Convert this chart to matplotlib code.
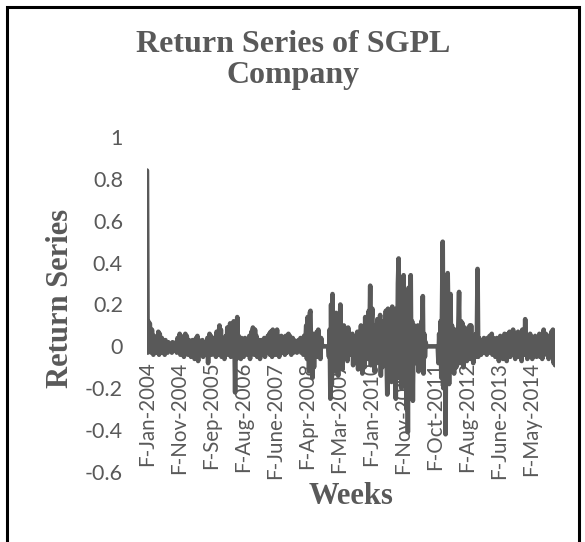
import matplotlib.pyplot as plt
from matplotlib.patches import Rectangle

# weekly return series, Jan 2004 - Dec 2014
returns = [
    0.84, -0.03, 0.12, -0.02, 0.11, 0.04, -0.03, 0.08, 0.02, -0.04,
    0.05, -0.02, 0.03, -0.03, 0.02, 0.00, 0.07, -0.04, 0.06, 0.01,
    -0.03, 0.04, -0.02, 0.02, 0.01, -0.04, 0.03, -0.01, 0.01, -0.03,
    0.02, 0.00, -0.02, 0.01, 0.00, -0.03, 0.02, -0.01, 0.01, 0.00,
    -0.02, 0.02, -0.03, 0.04, -0.02, 0.03, 0.06, -0.04, 0.05, 0.02,
    # 50
    -0.03, 0.04, -0.05, 0.02, 0.06, -0.02, 0.05, 0.01, -0.04, 0.03,
    -0.02, 0.02, -0.05, 0.01, 0.03, -0.03, 0.01, -0.06, 0.02, 0.04,
    -0.03, 0.05, -0.07, 0.03, 0.01, -0.04, 0.02, -0.02, 0.03, -0.05,
    0.02, 0.00, -0.03, 0.02, -0.01, 0.04, -0.08, 0.03, 0.06, -0.02,
    0.05, -0.04, 0.02, -0.03, 0.04, -0.02, 0.03, -0.05, 0.07, 0.02,
    # 100
    -0.04, 0.06, 0.10, -0.03, 0.08, -0.05, 0.03, -0.02, 0.04, -0.06,
    0.02, 0.05, -0.03, 0.09, -0.04, 0.06, 0.03, 0.11, -0.05, 0.08,
    0.02, -0.04, 0.12, 0.05, -0.22, 0.10, -0.06, 0.14, -0.03, 0.05,
    -0.04, 0.03, -0.06, 0.04, -0.02, 0.02, -0.05, 0.03, 0.04, -0.03,
    0.02, -0.04, 0.03, -0.02, 0.05, -0.06, 0.04, 0.07, -0.03, 0.09,
    # 150
    0.06, -0.04, 0.08, -0.02, 0.05, -0.05, 0.02, -0.03, 0.03, -0.06,
    0.01, 0.03, -0.04, 0.02, -0.02, 0.04, -0.05, 0.01, 0.03, -0.03,
    0.05, -0.02, 0.06, -0.04, 0.07, 0.02, -0.05, 0.08, -0.03, 0.06,
    0.03, -0.04, 0.02, 0.08, -0.02, 0.04, -0.05, 0.03, -0.02, 0.05,
    -0.03, 0.04, -0.02, 0.03, -0.04, 0.05, 0.02, -0.03, 0.04, 0.06,
    # 200
    -0.02, 0.05, 0.03, -0.04, 0.02, 0.04, -0.03, 0.03, -0.02, 0.02,
    0.01, -0.03, 0.02, 0.03, -0.02, 0.01, 0.04, -0.03, 0.02, 0.03,
    -0.04, 0.05, -0.02, 0.03, 0.10, -0.06, 0.14, 0.05, -0.12, 0.16,
    0.17, -0.08, 0.04, -0.15, 0.06, -0.10, 0.02, -0.04, 0.03, 0.07,
    -0.05, 0.08, -0.03, 0.02, -0.06, 0.04, 0.01, 0.00, 0.00, 0.00,
    # 250
    0.00, 0.00, 0.00, 0.00, 0.00, 0.00, -0.05, 0.08, -0.25, 0.20,
    -0.18, 0.25, -0.10, 0.15, 0.05, -0.12, 0.16, 0.08, -0.06, -0.14,
    0.12, 0.05, 0.20, -0.08, 0.06, -0.11, 0.04, 0.10, -0.05, 0.08,
    -0.04, 0.03, -0.07, 0.09, 0.02, -0.04, 0.03, 0.05, -0.02, 0.06,
    -0.09, 0.04, -0.03, 0.02, 0.05, -0.06, 0.07, -0.11, 0.03, 0.06,
    # 300
    -0.08, 0.10, -0.04, -0.13, 0.08, 0.04, -0.10, 0.14, -0.05, 0.06,
    0.02, -0.06, 0.17, 0.05, 0.29, -0.09, 0.12, 0.18, -0.07, 0.10,
    -0.12, 0.06, 0.04, -0.08, 0.13, 0.05, -0.04, 0.10, 0.15, -0.14,
    0.08, -0.10, 0.06, 0.12, -0.06, 0.04, 0.17, -0.05, -0.23, 0.18,
    0.08, -0.09, 0.14, 0.05, -0.17, 0.19, 0.10, -0.12, 0.16, 0.07,
    # 350
    -0.25, 0.18, -0.08, 0.30, 0.42, -0.15, 0.25, 0.10, -0.20, 0.20,
    0.12, 0.34, -0.18, 0.22, 0.08, -0.30, 0.15, -0.41, 0.28, -0.22,
    0.20, 0.34, -0.16, 0.12, -0.26, 0.05, 0.10, -0.08, 0.06, -0.04,
    0.04, 0.10, -0.12, 0.08, -0.06, 0.05, 0.12, -0.09, 0.24, -0.13,
    0.06, -0.05, 0.02, 0.00, 0.00, 0.00, 0.00, 0.00, 0.00, 0.00,
    # 400
    0.00, 0.00, 0.00, 0.00, 0.00, 0.00, 0.00, 0.00, 0.00, 0.00,
    -0.08, 0.06, -0.05, 0.12, -0.15, 0.20, 0.50, -0.20, 0.30, 0.15,
    -0.42, 0.22, -0.10, 0.35, 0.12, -0.18, 0.08, 0.25, -0.12, 0.10,
    0.05, -0.06, -0.13, 0.08, 0.04, -0.10, 0.06, -0.05, 0.10, 0.26,
    -0.08, 0.05, 0.12, -0.06, 0.11, -0.10, 0.04, 0.09, -0.05, 0.03,
    # 450
    -0.07, 0.06, -0.03, 0.05, 0.10, -0.06, 0.10, -0.04, 0.03, -0.08,
    0.04, 0.02, -0.05, 0.06, 0.03, 0.37, -0.05, 0.04, -0.03, 0.02,
    -0.04, 0.03, 0.01, -0.02, 0.04, -0.03, 0.02, 0.03, -0.04, 0.04,
    0.02, -0.03, 0.05, -0.02, 0.03, 0.06, -0.04, 0.04, -0.02, 0.03,
    -0.05, 0.02, 0.04, -0.03, 0.02, -0.07, 0.03, 0.05, -0.04, 0.02,
    # 500
    0.04, -0.06, 0.03, 0.06, -0.03, 0.05, -0.07, 0.04, 0.06, -0.02,
    0.07, -0.05, 0.03, 0.05, -0.04, 0.08, -0.03, 0.04, -0.06, 0.06,
    0.02, -0.04, 0.07, -0.05, 0.05, -0.03, 0.06, -0.07, 0.08, 0.04,
    0.06, -0.04, 0.13, -0.02, 0.05, -0.06, 0.04, 0.02, -0.05, 0.06,
    -0.03, 0.03, -0.06, 0.04, 0.02, -0.04, 0.05, 0.03, -0.05, 0.02,
    # 550
    0.04, -0.03, 0.06, -0.05, 0.02, 0.04, -0.06, 0.03, 0.08, -0.04,
    0.02, 0.06, -0.03, 0.04, 0.05, -0.06, 0.05, -0.04, 0.02, 0.07,
    -0.05, 0.08, -0.08, 0.04, -0.09,
]

tick_labels = ['F-Jan-2004', 'F-Nov-2004', 'F-Sep-2005', 'F-Aug-2006', 'F-June-2007',
               'F-Apr-2008', 'F-Mar-2009', 'F-Jan-2010', 'F-Nov-2010', 'F-Oct-2011',
               'F-Aug-2012', 'F-June-2013', 'F-May-2014']
tick_step = 45  # weeks between category labels

y_ticks = [1, 0.8, 0.6, 0.4, 0.2, 0, -0.2, -0.4, -0.6]
y_tick_labels = ['1', '0.8', '0.6', '0.4', '0.2', '0', '-0.2', '-0.4', '-0.6']

grey = '#595959'
W, H = 585, 542

fig = plt.figure(figsize=(W / 100, H / 100), dpi=100)
ax = fig.add_axes([146.6 / W, 1 - 472 / H, 408.8 / W, 335 / H])

weeks = list(range(len(returns)))
ax.plot(weeks, returns, color=grey, lw=3.3, solid_joinstyle='round', solid_capstyle='round')

ax.set_xlim(-0.5, len(returns) - 0.5)
ax.set_ylim(-0.6, 1.0)

for s in ax.spines.values():
    s.set_visible(False)
ax.spines['bottom'].set_position(('data', 0))

ax.set_yticks(y_ticks)
ax.set_yticklabels(y_tick_labels, family='Lato', fontsize=15.5, color=grey)
ax.set_xticks([i * tick_step for i in range(len(tick_labels))])
ax.set_xticklabels(tick_labels, rotation=90, family='Lato', fontsize=14.8, color=grey)
ax.tick_params(axis='y', length=0, pad=17)
ax.tick_params(axis='x', length=0, pad=11)

fig.text(293 / W, 1 - 60 / H, 'Return Series of SGPL\nCompany', ha='center', va='center',
         family='Liberation Serif', weight='bold', fontsize=23, color=grey, linespacing=1.12)
fig.text(60 / W, 1 - 298 / H, 'Return Series', rotation=90, ha='center', va='center',
         family='Liberation Serif', weight='bold', fontsize=22, color=grey)
fig.text(351 / W, 1 - 497 / H, 'Weeks', ha='center', va='center',
         family='Liberation Serif', weight='bold', fontsize=22, color=grey)

# outer chart border
fig.patches.append(Rectangle((6.5 / W, -0.02), 572 / W, 1 - 6.5 / H + 0.02,
                             transform=fig.transFigure, fill=False, ec='black', lw=2.2))

fig.savefig('out.png', dpi=100)
